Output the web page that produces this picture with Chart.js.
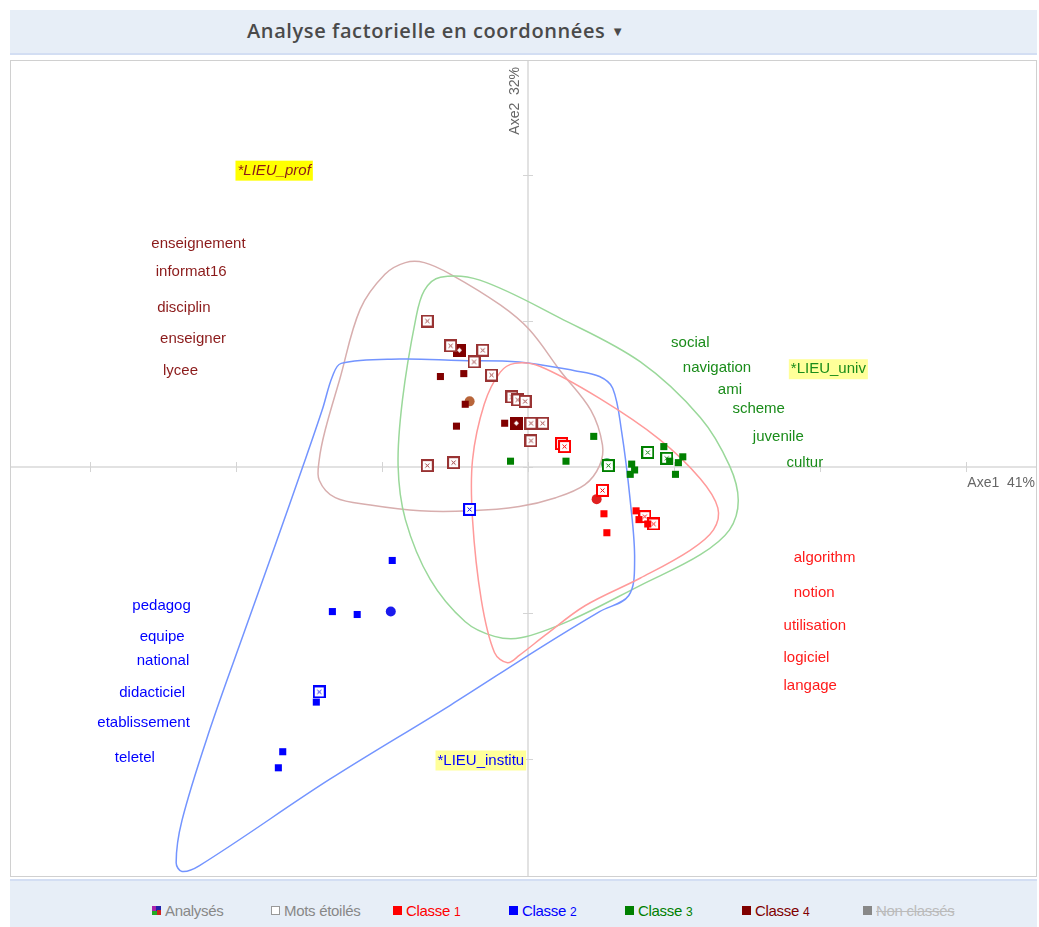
<!DOCTYPE html>
<html>
<head>
<meta charset="utf-8">
<script src="https://cdn.jsdelivr.net/npm/chart.js@4/dist/chart.umd.min.js"></script>
<style>
  body { margin: 0; background: #fff; font-family: "Liberation Sans", Arial, sans-serif; }
  #titlebar { position: absolute; left: 10px; top: 10px; width: 1027px; height: 43px; background: #e7eef7; border-bottom: 2px solid #d3def3; }
  #titlebar span { position: absolute; left: 237px; top: 7px; font-family: "Open Sans", sans-serif; font-size: 20px; font-weight: 600; letter-spacing: 0.6px; color: #4a4a4a; }
  #titlebar b { font-size: 13px; vertical-align: 2px; }
  #frame { position: absolute; left: 10px; top: 60px; width: 1027px; height: 817px; box-sizing: border-box; border: 1px solid #d0d0d0; pointer-events: none; }
  #plot { position: absolute; left: 10px; top: 60px; }
  #legendbar { position: absolute; left: 10px; top: 879px; width: 1027px; height: 48px; background: #e7eef7; border-top: 2px solid #d3def3; }
  .lg { position: absolute; top: 21px; font-size: 15px; letter-spacing: -0.3px; white-space: nowrap; }
  .lg i { display: inline-block; width: 9px; height: 9px; margin-right: 4px; vertical-align: 1px; }
  .lg small { font-size: 12px; }
</style>
</head>
<body>
<div id="titlebar"><span>Analyse factorielle en coordonnées <b>▼</b></span></div>
<canvas id="plot" width="1027" height="817"></canvas>
<div id="frame"></div>
<div id="legendbar">
  <div class="lg" style="left:142px;color:#888"><i style="background:conic-gradient(#22a 0 25%,#c22 0 50%,#2a2 0 75%,#a2a 0);"></i>Analysés</div>
  <div class="lg" style="left:261px;color:#888"><i style="border:1px solid #999;width:7px;height:7px;background:#fff;"></i>Mots étoilés</div>
  <div class="lg" style="left:383px;color:#ff0000"><i style="background:#ff0000"></i>Classe <small>1</small></div>
  <div class="lg" style="left:499px;color:#0000ff"><i style="background:#0000ff"></i>Classe <small>2</small></div>
  <div class="lg" style="left:615px;color:#008000"><i style="background:#008000"></i>Classe <small>3</small></div>
  <div class="lg" style="left:732px;color:#800000"><i style="background:#800000"></i>Classe <small>4</small></div>
  <div class="lg" style="left:853px;color:#bbb;text-decoration:line-through"><i style="background:#888"></i>Non classés</div>
</div>

<script>
// ---- data (factor coordinates, Axe1 / Axe2) ----
const classe1Etoiles = [[0.23, 0.16], [0.25, 0.14], [0.51, -0.16], [0.80, -0.34], [0.86, -0.39]];
const classe1Points = [[0.52, -0.32], [0.54, -0.45], [0.74, -0.30], [0.76, -0.36], [0.82, -0.39]];
const classe1Centre = [[0.47, -0.22]];

const classe2Etoiles = [[-0.40, -0.29], [-1.43, -1.54]];
const classe2Points = [[-0.93, -0.64], [-1.34, -0.99], [-1.17, -1.01], [-1.45, -1.61], [-1.68, -1.95], [-1.71, -2.06]];
const classe2Centre = [[-0.94, -0.99]];

const classe3Etoiles = [[0.82, 0.10], [0.95, 0.06], [0.55, 0.01]];
const classe3Points = [[0.45, 0.21], [-0.12, 0.04], [0.26, 0.04], [0.71, 0.02], [0.73, -0.02], [0.70, -0.05],
                       [0.93, 0.14], [0.97, 0.04], [1.03, 0.03], [1.06, 0.07], [1.01, -0.05]];
const classe3Centre = [[0.54, 0.02]];

const classe4Etoiles = [[-0.69, 1.00], [-0.53, 0.83], [-0.31, 0.80], [-0.37, 0.72], [-0.25, 0.63], [-0.11, 0.48],
                        [-0.07, 0.46], [-0.02, 0.45], [0.02, 0.30], [0.10, 0.30], [0.02, 0.18], [-0.69, 0.01], [-0.51, 0.03]];
const classe4Doubles = [[-0.47, 0.80], [-0.08, 0.30]];
const classe4Points = [[-0.60, 0.62], [-0.44, 0.64], [-0.43, 0.43], [-0.49, 0.28], [-0.16, 0.30]];
const classe4Centre = [[-0.40, 0.45]];

// contours of each class
const contour1 = [[0.49, 0.47], [0.90, 0.19], [1.18, -0.08], [1.30, -0.28], [1.27, -0.43],
                  [1.11, -0.57], [0.77, -0.76], [0.39, -0.95], [0.12, -1.15], [-0.06, -1.29], [-0.14, -1.34],
                  [-0.23, -1.27], [-0.32, -0.91], [-0.38, -0.36], [-0.38, 0.05], [-0.30, 0.43], [-0.19, 0.65],
                  [-0.09, 0.71], [0.08, 0.69]];
const contour2 = [[-0.47, 0.73], [-0.06, 0.72], [0.32, 0.66], [0.49, 0.62], [0.58, 0.54],
                  [0.64, 0.25], [0.70, -0.23], [0.73, -0.64], [0.69, -0.88], [0.49, -0.99], [0.08, -1.24],
                  [-0.53, -1.63], [-1.36, -2.14], [-2.25, -2.73], [-2.37, -2.77], [-2.41, -2.71], [-2.37, -2.42],
                  [-2.18, -1.80], [-1.94, -1.12], [-1.73, -0.53], [-1.54, 0.01], [-1.41, 0.39], [-1.34, 0.62],
                  [-1.28, 0.71], [-0.88, 0.74]];
const contour3 = [[0.22, 1.02], [0.77, 0.72], [1.18, 0.34], [1.38, 0.01], [1.44, -0.23],
                  [1.38, -0.43], [1.18, -0.60], [0.77, -0.81], [0.29, -1.05], [-0.05, -1.17], [-0.23, -1.16],
                  [-0.43, -1.06], [-0.67, -0.77], [-0.84, -0.36], [-0.89, 0.01], [-0.86, 0.46], [-0.77, 1.01],
                  [-0.71, 1.21], [-0.60, 1.30], [-0.33, 1.28]];
const contour4 = [[-0.19, 1.11], [0.01, 0.94], [0.22, 0.66], [0.43, 0.39],
                  [0.51, 0.15], [0.49, 0.01], [0.39, -0.12], [0.19, -0.21], [-0.06, -0.27], [-0.40, -0.30],
                  [-0.74, -0.30], [-1.08, -0.26], [-1.32, -0.21], [-1.43, -0.09], [-1.43, 0.05], [-1.39, 0.25],
                  [-1.29, 0.60], [-1.15, 1.08], [-0.98, 1.32], [-0.84, 1.40], [-0.71, 1.40], [-0.53, 1.32]];

// words shown on the plane
const mots1 = ['algorithm', 'notion', 'utilisation', 'logiciel', 'langage'];
const mots1Pos = [[1.82, -0.62], [1.82, -0.86], [1.75, -1.09], [1.75, -1.31], [1.75, -1.50]];
const mots2 = ['pedagog', 'equipe', 'national', 'didacticiel', 'etablissement', 'teletel'];
const mots2Pos = [[-2.71, -0.95], [-2.66, -1.16], [-2.68, -1.33], [-2.80, -1.55], [-2.95, -1.75], [-2.83, -1.99]];
const mots3 = ['social', 'navigation', 'ami', 'scheme', 'juvenile', 'cultur'];
const mots3Pos = [[0.98, 0.85], [1.06, 0.68], [1.30, 0.53], [1.40, 0.40], [1.54, 0.21], [1.77, 0.03]];
const mots4 = ['enseignement', 'informat16', 'disciplin', 'enseigner', 'lycee'];
const mots4Pos = [[-2.58, 1.53], [-2.55, 1.34], [-2.54, 1.09], [-2.52, 0.88], [-2.50, 0.66]];
const lieux = ['*LIEU_univ', '*LIEU_institu', '*LIEU_prof'];
const lieuxPos = [[1.80, 0.67], [-0.62, -2.01], [-1.99, 2.03]];

const axisTicks = [-3, -2, -1, 0, 1, 2, 3];
const axisLabels = ['Axe1  41%', 'Axe2  32%'];

// ---- rendering ----
const C1 = '#ff0000', C2 = '#0000ff', C3 = '#008000', C4 = '#800000';

function boxMarker(color) {
    const c = document.createElement('canvas');
    c.width = 13; c.height = 13;
    const g = c.getContext('2d');
    g.fillStyle = '#fff';
    g.fillRect(0, 0, 13, 13);
    g.strokeStyle = color;
    g.lineWidth = 2;
    g.strokeRect(1, 1, 11, 11);
    g.lineWidth = 1;
    g.beginPath();
    g.moveTo(4.5, 4.5); g.lineTo(8.5, 8.5);
    g.moveTo(8.5, 4.5); g.lineTo(4.5, 8.5);
    g.stroke();
    return c;
}

function doubleMarker(color) {
    const c = document.createElement('canvas');
    c.width = 13; c.height = 13;
    const g = c.getContext('2d');
    g.fillStyle = color;
    g.fillRect(0, 0, 13, 13);
    g.fillStyle = '#fff';
    g.beginPath();
    g.moveTo(6.5, 4); g.lineTo(9, 6.5); g.lineTo(6.5, 9); g.lineTo(4, 6.5);
    g.closePath();
    g.fill();
    return c;
}

const xy = arr => arr.map(p => ({ x: p[0], y: p[1] }));
// wrap the loop: [last, p0 ... last, p0, p1]; first and last segments are hidden,
// so every visible joint gets its neighbours on both sides and the curve closes smoothly
const closed = arr => xy([arr[arr.length - 1]].concat(arr, [arr[0], arr[1]]));

function points(data, style, color, radius) {
    return { data: xy(data), pointStyle: style, pointRadius: radius, pointHoverRadius: radius,
             backgroundColor: color, borderColor: color, borderWidth: 0, showLine: false, order: 1 };
}
function hull(data, color) {
    const n = data.length;
    return { data: closed(data), showLine: true, tension: 0.35, pointRadius: 0, borderColor: color,
             borderWidth: 1.5, fill: false, order: 5,
             segment: { borderColor: c => (c.p0DataIndex === 0 || c.p0DataIndex === n + 1) ? 'rgba(0,0,0,0)' : color } };
}

const axesPlugin = {
    id: 'axes',
    beforeDatasetsDraw(chart) {
        const { ctx, chartArea: a, scales: { x, y } } = chart;
        const x0 = x.getPixelForValue(0), y0 = y.getPixelForValue(0);
        ctx.save();
        ctx.strokeStyle = '#e2e2e2';
        ctx.lineWidth = 2;
        ctx.beginPath();
        ctx.moveTo(a.left, y0); ctx.lineTo(a.right, y0);
        ctx.moveTo(x0, a.top); ctx.lineTo(x0, a.bottom);
        ctx.stroke();
        ctx.strokeStyle = '#d4d4d4';
        ctx.lineWidth = 1;
        ctx.beginPath();
        axisTicks.forEach(t => {
            const px = Math.round(x.getPixelForValue(t)) + 0.5;
            const py = Math.round(y.getPixelForValue(t)) + 0.5;
            ctx.moveTo(px, y0 - 5); ctx.lineTo(px, y0 + 5);
            ctx.moveTo(x0 - 5, py); ctx.lineTo(x0 + 5, py);
        });
        ctx.stroke();

        ctx.fillStyle = '#666';
        ctx.font = '14px "Liberation Sans", Arial, sans-serif';
        ctx.textBaseline = 'middle';
        ctx.textAlign = 'right';
        ctx.fillText(axisLabels[0], a.right - 2, y0 + 16);
        ctx.translate(x0 - 13, a.top + 7);
        ctx.rotate(-Math.PI / 2);
        ctx.fillText(axisLabels[1], 0, 0);
        ctx.restore();
    }
};

const wordsPlugin = {
    id: 'words',
    afterDatasetsDraw(chart) {
        const { ctx, scales: { x, y } } = chart;
        ctx.save();
        ctx.textBaseline = 'middle';
        ctx.textAlign = 'left';
        ctx.font = '15px "Liberation Sans", Arial, sans-serif';
        const put = (words, pos, color) => words.forEach((w, i) => {
            ctx.fillStyle = color;
            ctx.fillText(w, x.getPixelForValue(pos[i][0]), y.getPixelForValue(pos[i][1]));
        });
        put(mots1, mots1Pos, '#ff1a1a');
        put(mots2, mots2Pos, '#0000ff');
        put(mots3, mots3Pos, '#1a8c1a');
        put(mots4, mots4Pos, '#8b1a1a');

        const lieuColors = ['#1a8c1a', '#0000ff', '#8b1a1a'];
        const lieuBg = ['#ffff99', '#ffff99', '#ffff00'];
        lieux.forEach((w, i) => {
            const px = x.getPixelForValue(lieuxPos[i][0]);
            const py = y.getPixelForValue(lieuxPos[i][1]);
            ctx.font = (i === 2 ? 'italic ' : '') + '15px "Liberation Sans", Arial, sans-serif';
            const wd = ctx.measureText(w).width;
            ctx.fillStyle = lieuBg[i];
            ctx.fillRect(px - 2, py - 10, wd + 4, 20);
            ctx.fillStyle = lieuColors[i];
            ctx.fillText(w, px, py);
        });
        ctx.restore();
    }
};

new Chart(document.getElementById('plot').getContext('2d'), {
    type: 'scatter',
    data: {
        datasets: [
            points(classe1Points, 'rect', C1, 5),
            points(classe2Points, 'rect', C2, 5),
            points(classe3Points, 'rect', C3, 5),
            points(classe4Points, 'rect', C4, 5),
            points(classe1Etoiles, boxMarker(C1), C1, 6),
            points(classe2Etoiles, boxMarker(C2), C2, 6),
            points(classe3Etoiles, boxMarker(C3), C3, 6),
            points(classe4Etoiles, boxMarker('#993333'), C4, 6),
            points(classe4Doubles, doubleMarker(C4), C4, 6),
            points(classe1Centre, 'circle', '#e02020', 5),
            points(classe2Centre, 'circle', '#1a1aee', 5),
            points(classe3Centre, 'circle', '#50b878', 6),
            points(classe4Centre, 'circle', '#b8653a', 5),
            hull(contour1, '#ff9a9a'),
            hull(contour2, '#7394ff'),
            hull(contour3, '#9ad89a'),
            hull(contour4, '#d8aeae')
        ]
    },
    options: {
        responsive: false,
        animation: false,
        devicePixelRatio: 1,
        layout: { padding: 0, autoPadding: false },
        plugins: { legend: { display: false }, tooltip: { enabled: false } },
        scales: {
            x: { type: 'linear', min: -3.548, max: 3.486, display: false },
            y: { type: 'linear', min: -2.808, max: 2.788, display: false }
        }
    },
    plugins: [axesPlugin, wordsPlugin]
});
</script>
</body>
</html>
